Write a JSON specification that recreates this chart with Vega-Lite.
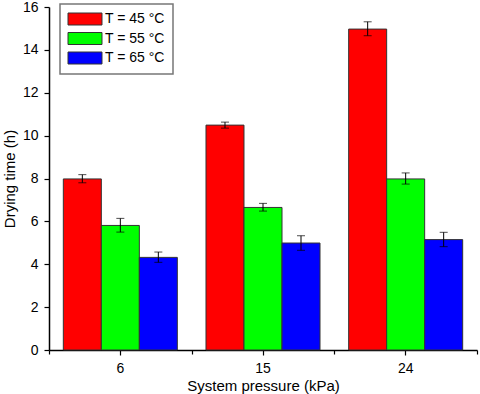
{
  "$schema": "https://vega.github.io/schema/vega-lite/v6.json",
  "width": 428,
  "height": 343,
  "autosize": "none",
  "padding": {"left": 49, "top": 7, "right": 3, "bottom": 44},
  "background": "white",
  "config": {
    "font": "Liberation Sans",
    "view": {"stroke": null},
    "axis": {
      "domainColor": "black",
      "domainWidth": 1.5,
      "tickColor": "black",
      "tickWidth": 1.2,
      "labelColor": "black",
      "labelFontSize": 14,
      "titleColor": "black",
      "titleFontSize": 15,
      "titleFontWeight": "normal",
      "grid": false
    }
  },
  "data": {
    "values": [
      {"p": "6", "T": "T = 45 °C", "time": 7.98, "lo": 7.80, "hi": 8.18},
      {"p": "6", "T": "T = 55 °C", "time": 5.81, "lo": 5.50, "hi": 6.14},
      {"p": "6", "T": "T = 65 °C", "time": 4.32, "lo": 4.09, "hi": 4.57},
      {"p": "15", "T": "T = 45 °C", "time": 10.49, "lo": 10.35, "hi": 10.63},
      {"p": "15", "T": "T = 55 °C", "time": 6.65, "lo": 6.48, "hi": 6.84},
      {"p": "15", "T": "T = 65 °C", "time": 4.99, "lo": 4.65, "hi": 5.33},
      {"p": "24", "T": "T = 45 °C", "time": 14.97, "lo": 14.66, "hi": 15.31},
      {"p": "24", "T": "T = 55 °C", "time": 7.98, "lo": 7.74, "hi": 8.26},
      {"p": "24", "T": "T = 65 °C", "time": 5.15, "lo": 4.82, "hi": 5.49}
    ]
  },
  "encoding": {
    "xOffset": {
      "field": "T",
      "type": "nominal",
      "sort": ["T = 45 °C", "T = 55 °C", "T = 65 °C"],
      "scale": {"paddingInner": 0, "paddingOuter": 0.377}
    }
  },
  "layer": [
    {
      "mark": {"type": "bar", "stroke": "#333333", "strokeWidth": 1},
      "encoding": {
        "x": {
          "field": "p",
          "type": "ordinal",
          "sort": ["6", "15", "24"],
          "scale": {"paddingInner": 0, "paddingOuter": 0},
          "axis": {"labelAngle": 0, "tickSize": 5, "labelPadding": 6, "titlePadding": 3, "orient": "bottom"},
          "title": "System pressure (kPa)"
        },
        "y": {
          "field": "time",
          "type": "quantitative",
          "scale": {"domain": [0, 16], "nice": false},
          "title": "Drying time (h)",
          "axis": {
            "values": [0,1,2,3,4,5,6,7,8,9,10,11,12,13,14,15,16],
            "labelExpr": "datum.value % 2 == 0 ? datum.label : ''",
            "tickSize": {"condition": {"test": "datum.value % 2 == 0", "value": 5}, "value": 3},
            "labelPadding": 6,
            "titlePadding": 5
          }
        },
        "color": {
          "field": "T",
          "type": "nominal",
          "sort": ["T = 45 °C", "T = 55 °C", "T = 65 °C"],
          "scale": {"range": ["#FF0000", "#00FF00", "#0000FF"]},
          "legend": {
            "title": null,
            "orient": "none",
            "legendX": 11,
            "legendY": -3,
            "direction": "vertical",
            "symbolType": "M-2.833,-1H2.833V1H-2.833Z",
            "symbolSize": 144,
            "symbolStrokeColor": "#333333",
            "symbolStrokeWidth": 1,
            "symbolOpacity": 1,
            "labelFontSize": 14,
            "labelColor": "black",
            "labelOffset": 13,
            "symbolOffset": 10,
            "rowPadding": 3.5,
            "padding": 8,
            "strokeColor": "#777777",
            "encode": {"legend": {"update": {"strokeWidth": {"value": 1.5}}}}
          }
        }
      }
    },
    {
      "mark": {"type": "rule", "color": "black", "strokeWidth": 1},
      "encoding": {
        "y": {"field": "lo", "type": "quantitative"},
        "y2": {"field": "hi"},
        "x": {
          "field": "p",
          "type": "ordinal",
          "sort": ["6", "15", "24"],
          "scale": {"paddingInner": 0, "paddingOuter": 0},
          "axis": {"tickBand": "extent", "labels": false, "domain": false, "tickSize": 4, "title": null, "orient": "bottom"}
        }
      }
    },
    {
      "mark": {"type": "tick", "color": "black", "size": 8, "thickness": 1},
      "encoding": {
        "x": {"field": "p", "type": "ordinal", "sort": ["6", "15", "24"], "axis": null},
        "y": {"field": "lo", "type": "quantitative"}
      }
    },
    {
      "mark": {"type": "tick", "color": "black", "size": 8, "thickness": 1},
      "encoding": {
        "x": {"field": "p", "type": "ordinal", "sort": ["6", "15", "24"], "axis": null},
        "y": {"field": "hi", "type": "quantitative"}
      }
    }
  ],
  "resolve": {"axis": {"x": "independent"}}
}
